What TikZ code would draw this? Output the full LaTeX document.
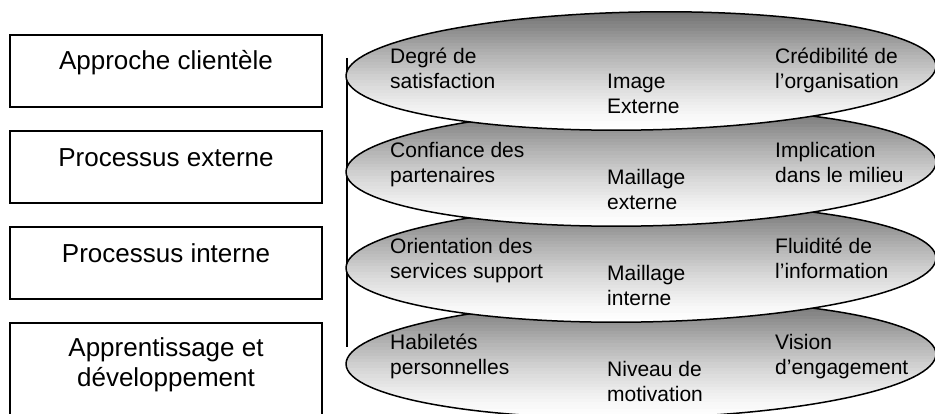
\documentclass[tikz,border=0pt]{standalone}
\usepackage{fontspec}
\setmainfont{Liberation Sans}
\usetikzlibrary{calc}
\definecolor{shadetop}{RGB}{108,108,108}
\tikzset{
  boxstyle/.style={draw=black, line width=1.2pt, minimum width=312pt, inner sep=0pt},
  boxtext/.style={font=\fontsize{26}{30}\selectfont, align=center, anchor=base, inner sep=0pt},
  ellpath/.style={draw=black, line width=1.5pt},
  elltext/.style={font=\fontsize{21}{24.5}\selectfont, align=left, anchor=base west, inner sep=0pt},
}
\begin{document}
\begin{tikzpicture}[x=1pt,y=1pt]
\useasboundingbox (0,0) rectangle (935,414);
\clip (0,0) rectangle (935,414);
% left boxes
\node[boxstyle, minimum height=72pt] (b1) at (166,343) {};
\node[boxstyle, minimum height=72pt] (b2) at (166,247) {};
\node[boxstyle, minimum height=72pt] (b3) at (166,151) {};
\node[boxstyle, minimum height=110pt] (b4) at (166,36) {};
\node[boxtext] (t1) at (166,344) {Approche clientèle};
\node[boxtext] (t2) at (166,247) {Processus externe};
\node[boxtext] (t3) at (166,151) {Processus interne};
\node[boxtext] (t4) at (166,27) {Apprentissage et\\développement};
% vertical line
\coordinate (vtop) at (347,356);
\coordinate (vbot) at (347,67);
\draw[line width=1.2pt] (vtop) -- (vbot);
% ellipse centres
\coordinate (e1) at (641,343);
\coordinate (e2) at (641,247);
\coordinate (e3) at (641,151);
\coordinate (e4) at (641,55);
% ellipses (bottom first), shaded dark grey at top to white at bottom
\foreach \e in {e4,e3,e2,e1}{
  \begin{scope}
    \clip[rotate around={1:(\e)}] (\e) ellipse [x radius=295, y radius=59];
    \foreach \i in {0,...,39}{
      \pgfmathtruncatemacro{\p}{100*(1-\i/39)^1.4}
      \fill[shadetop!\p!white] ($(\e)+(-300,62-\i*3.1)$) rectangle ($(\e)+(300,62-\i*3.1-3.6)$);
    }
  \end{scope}
  \draw[ellpath, rotate around={1:(\e)}] (\e) ellipse [x radius=295, y radius=59];
}
% texts
\node[elltext] (l1) at ($(e1)+(-251,-17.5)$) {Degré de\\satisfaction};
\node[elltext] (m1) at ($(e1)+(-34,-42.5)$) {Image\\Externe};
\node[elltext] (r1) at ($(e1)+(134,-17.5)$) {Crédibilité de\\l’organisation};
\node[elltext] (l2) at ($(e2)+(-251,-15.5)$) {Confiance des\\partenaires};
\node[elltext] (m2) at ($(e2)+(-34,-42.5)$) {Maillage\\externe};
\node[elltext] (r2) at ($(e2)+(134,-15.5)$) {Implication\\dans le milieu};
\node[elltext] (l3) at ($(e3)+(-251,-15.5)$) {Orientation des\\services support};
\node[elltext] (m3) at ($(e3)+(-34,-42.5)$) {Maillage\\interne};
\node[elltext] (r3) at ($(e3)+(134,-15.5)$) {Fluidité de\\l’information};
\node[elltext] (l4) at ($(e4)+(-251,-15.5)$) {Habiletés\\personnelles};
\node[elltext] (m4) at ($(e4)+(-34,-42.5)$) {Niveau de\\motivation};
\node[elltext] (r4) at ($(e4)+(134,-15.5)$) {Vision\\d’engagement};
\end{tikzpicture}
\end{document}
